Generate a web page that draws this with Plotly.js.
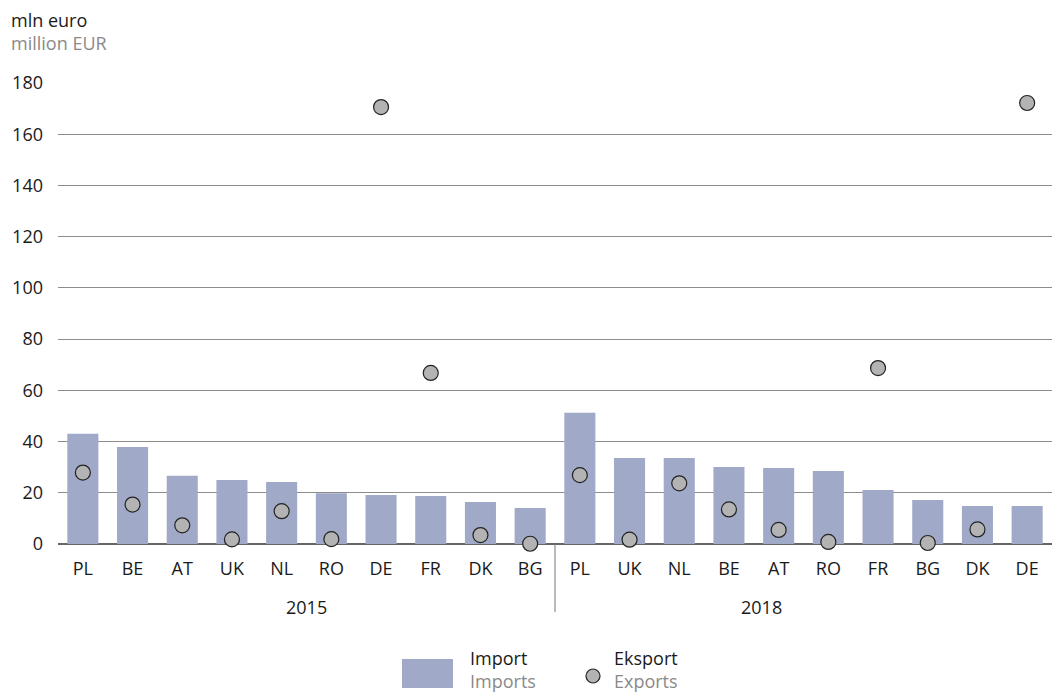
<!DOCTYPE html>
<html>
<head>
<meta charset="utf-8">
<script src="https://cdn.plot.ly/plotly-3.0.1.min.js"></script>
<style>html,body{margin:0;padding:0;background:#fff}#chart{width:1056px;height:693px}</style>
</head>
<body>
<div id="chart"></div>
<script>
const years = ["2015", "2018"];
const countries2015 = ["PL","BE","AT","UK","NL","RO","DE","FR","DK","BG"];
const countries2018 = ["PL","UK","NL","BE","AT","RO","FR","BG","DK","DE"];
const imports2015 = [43.0, 37.9, 26.6, 25.0, 24.2, 19.8, 19.1, 18.7, 16.4, 14.1];
const exports2015 = [27.9, 15.4, 7.3, 1.8, 12.8, 1.9, 170.6, 66.8, 3.5, 0.1];
const imports2018 = [51.2, 33.6, 33.6, 30.1, 29.7, 28.5, 21.1, 17.2, 14.8, 14.8];
const exports2018 = [26.9, 1.7, 23.7, 13.5, 5.5, 0.8, 68.7, 0.4, 5.7, 172.2];
const yTicks = [0, 20, 40, 60, 80, 100, 120, 140, 160, 180];

const labels = countries2015.concat(countries2018);
const xs = labels.map((_, i) => i);
const imp = imports2015.concat(imports2018);
const exp = exports2015.concat(exports2018);

const barColor = "#a0a9c7";
const dotColor = "#b3b3b3";
const font = "Open Sans, Noto Sans, sans-serif";
const dark = "#1a1a1a";
const grey = "#8a8a8a";

const traces = [
  {type: "bar", x: xs, y: imp, marker: {color: barColor}, name: "Import", showlegend: false, hoverinfo: "y"},
  {type: "scatter", mode: "markers", x: xs, y: exp, name: "Eksport", showlegend: false, cliponaxis: false,
   marker: {symbol: "circle", size: 15, color: dotColor, line: {color: "#222", width: 1.2}}, hoverinfo: "y"}
];

// pixel helpers for plot area: left 58, width 994, top 83, height 461
const PL = 58, PW = 994, PT = 83, PH = 461, PB = PT + PH;
const px = v => (v - PL) / PW;
const py = v => (PB - v) / PH;

const two = (a, b) => a + "<br><span style='color:" + grey + "'>" + b + "</span>";

const n1 = countries2015.length;
const layout = {
  width: 1056, height: 693,
  margin: {l: 58, r: 4, t: 83, b: 149},
  paper_bgcolor: "#fff", plot_bgcolor: "#fff",
  font: {family: font, size: 18, color: dark},
  bargap: 0.375,
  xaxis: {
    range: [-0.5, labels.length - 0.5],
    tickmode: "array", tickvals: xs, ticktext: labels,
    showgrid: false, zeroline: false, showline: false,
    ticks: "outside", ticklen: 8, tickcolor: "rgba(0,0,0,0)",
    tickfont: {size: 18, color: dark}, fixedrange: true
  },
  yaxis: {
    range: [0, 180],
    tickmode: "array", tickvals: yTicks,
    showgrid: true, gridcolor: "#8c8c8c", gridwidth: 1,
    zeroline: true, zerolinecolor: "#666", zerolinewidth: 1.5,
    showline: false, ticks: "", ticklabelstandoff: 14,
    tickfont: {size: 18, color: dark}, fixedrange: true
  },
  shapes: [
    {type: "line", xref: "x", yref: "paper", x0: n1 - 0.5, x1: n1 - 0.5, y0: 0, y1: py(612),
     line: {color: "#777", width: 1}},
    {type: "rect", xref: "paper", yref: "paper",
     x0: px(402), x1: px(453), y0: py(659), y1: py(688),
     fillcolor: barColor, line: {width: 0}},
    {type: "circle", xref: "paper", yref: "paper",
     x0: px(586), x1: px(600), y0: py(669), y1: py(683),
     fillcolor: dotColor, line: {color: "#222", width: 1.2}}
  ],
  annotations: [
    {text: two("mln euro", "million EUR"), xref: "paper", yref: "paper", x: px(9), y: py(31), xanchor: "left", yanchor: "middle",
     align: "left", showarrow: false, font: {size: 18, color: dark}},
    {text: years[0], xref: "paper", yref: "paper", x: px(284), y: py(607), yanchor: "middle",
     showarrow: false, font: {size: 18, color: dark}},
    {text: years[1], xref: "paper", yref: "paper", x: px(784), y: py(607), yanchor: "middle",
     showarrow: false, font: {size: 18, color: dark}},
    {text: two("Import", "Imports"), xref: "paper", yref: "paper", x: px(468), y: py(669), xanchor: "left", yanchor: "middle",
     align: "left", showarrow: false, font: {size: 18, color: dark}},
    {text: two("Eksport", "Exports"), xref: "paper", yref: "paper", x: px(612), y: py(669), xanchor: "left", yanchor: "middle",
     align: "left", showarrow: false, font: {size: 18, color: dark}}
  ]
};

Plotly.newPlot("chart", traces, layout, {displayModeBar: false, staticPlot: true});
</script>
</body>
</html>
